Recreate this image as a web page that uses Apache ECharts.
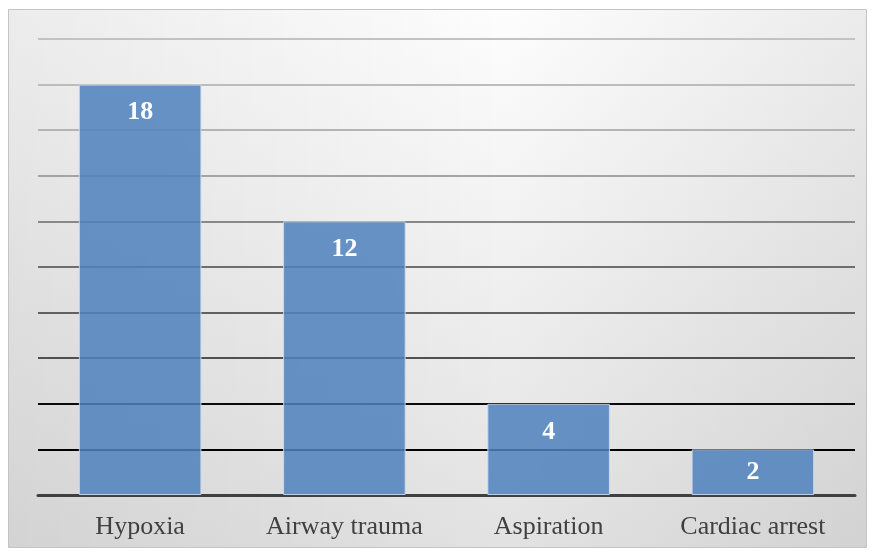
<!DOCTYPE html>
<html>
<head>
<meta charset="utf-8">
<script src="https://cdn.jsdelivr.net/npm/echarts@6/dist/echarts.min.js"></script>
<style>
  html, body { margin: 0; padding: 0; background: #ffffff; }
  #chart { width: 874px; height: 551px; }
</style>
</head>
<body>
<div id="chart"></div>
<script>
// Complications data
const categories = ['Hypoxia', 'Airway trauma', 'Aspiration', 'Cardiac arrest'];
const counts = [18, 12, 4, 2];
const axisMax = 20;
const axisStep = 2;

// Gridlines darken from top to bottom (index 0 = value 0)
const gridColors = ['#000000', '#000000', '#0a0a0a', '#505050', '#616161', '#6e6e6e',
                    '#888888', '#a4a4a4', '#b4b4b4', '#bcbcbc', '#c2c2c2'];

const chart = echarts.init(document.getElementById('chart'), null, { renderer: 'canvas' });

const serif = '"Liberation Serif", "Times New Roman", serif';
const frame = { x: 8.5, y: 9.5, width: 858, height: 538 };

chart.setOption({
  animation: false,
  backgroundColor: '#ffffff',
  graphic: [{
    // vertical shading of the chart area
    type: 'rect',
    z: -12,
    silent: true,
    shape: frame,
    style: {
      fill: new echarts.graphic.LinearGradient(0, 0, 0, 1, [
        { offset: 0, color: '#fdfdfd' },
        { offset: 1, color: '#e2e2e2' }
      ])
    }
  }, {
    // darker towards the left and right edges
    type: 'rect',
    z: -11,
    silent: true,
    shape: frame,
    style: {
      fill: new echarts.graphic.LinearGradient(0, 0, 1, 0, [
        { offset: 0, color: 'rgba(0,0,0,0.065)' },
        { offset: 0.58, color: 'rgba(0,0,0,0)' },
        { offset: 1, color: 'rgba(0,0,0,0.07)' }
      ]),
      stroke: '#c4c4c4',
      lineWidth: 1
    }
  }],
  grid: { left: 38, right: 19, top: 39, bottom: 56, containLabel: false },
  xAxis: {
    type: 'category',
    data: categories,
    axisLine: { show: true, lineStyle: { color: '#404040', width: 3 } },
    axisTick: { show: false },
    axisLabel: {
      color: '#404040',
      fontFamily: serif,
      fontSize: 26,
      margin: 19
    }
  },
  yAxis: {
    type: 'value',
    min: 0,
    max: axisMax,
    interval: axisStep,
    axisLine: { show: false },
    axisTick: { show: false },
    axisLabel: { show: false },
    splitLine: { show: true, lineStyle: { color: gridColors, width: 2 } }
  },
  series: [{
    type: 'bar',
    data: counts.map((v, i) => ({
      value: v,
      label: i === counts.length - 1 ? { position: 'inside' } : undefined
    })),
    barWidth: '60%',
    itemStyle: {
      color: 'rgba(79,129,189,0.86)',
      borderColor: 'rgba(205,218,236,0.9)',
      borderWidth: 1
    },
    label: {
      show: true,
      position: 'insideTop',
      distance: 15,
      color: '#ffffff',
      fontFamily: serif,
      fontWeight: 'bold',
      fontSize: 26
    }
  }]
});
</script>
</body>
</html>
